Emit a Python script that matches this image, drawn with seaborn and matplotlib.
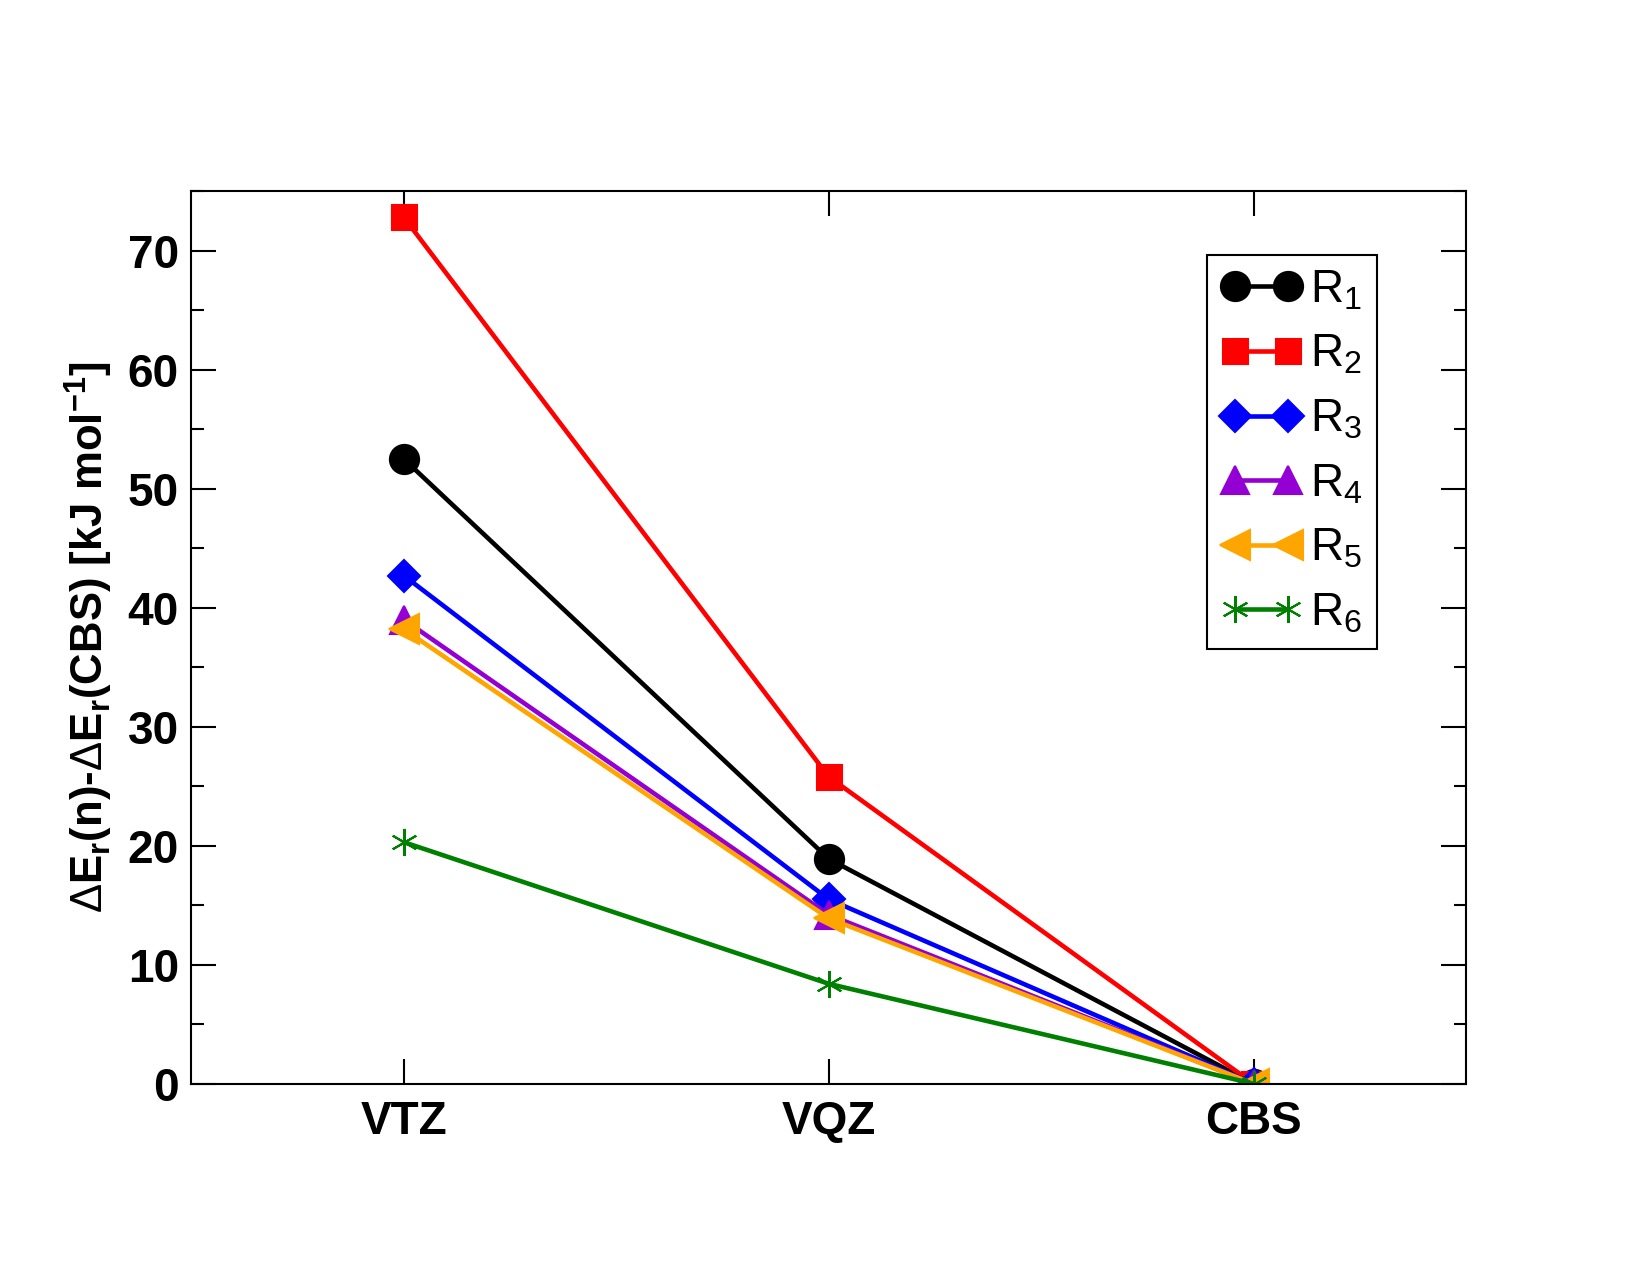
import pandas as pd
import matplotlib.pyplot as plt
import seaborn as sns
from matplotlib.ticker import MultipleLocator

# basis set levels and energy differences (kJ/mol) for each reaction
levels = ["VTZ", "VQZ", "CBS"]
R1 = [52.5, 18.9, 0.0]
R2 = [72.8, 25.8, 0.0]
R3 = [42.7, 15.5, 0.0]
R4 = [39.0, 14.2, 0.0]
R5 = [38.2, 13.9, 0.0]
R6 = [20.3, 8.4, 0.0]

series = {"1": R1, "2": R2, "3": R3, "4": R4, "5": R5, "6": R6}
colors = {"1": "black", "2": "red", "3": "blue", "4": "darkviolet", "5": "orange", "6": "green"}
markers = {"1": "o", "2": "s", "3": "D", "4": "^", "5": "<", "6": (6, 2, 0)}
msizes = {"1": 14, "2": 12, "3": 11, "4": 13, "5": 14, "6": 13}

rows = []
for k, vals in series.items():
    for lev, v in zip(levels, vals):
        rows.append({"level": lev, "value": v, "reaction": k})
df = pd.DataFrame(rows)

sns.set_style("ticks")
plt.rcParams["font.family"] = ["Liberation Sans", "DejaVu Sans"]
plt.rcParams["mathtext.fontset"] = "custom"
plt.rcParams["mathtext.rm"] = "Liberation Sans"
plt.rcParams["mathtext.bf"] = "Liberation Sans:bold"
plt.rcParams["mathtext.it"] = "Liberation Sans"
plt.rcParams["text.color"] = "black"
plt.rcParams["axes.labelcolor"] = "black"
plt.rcParams["xtick.color"] = "black"
plt.rcParams["ytick.color"] = "black"

fig = plt.figure(figsize=(11, 8.5), dpi=150)
ax = fig.add_axes([0.116, 0.150, 0.7725, 0.700])

for k in series:
    d = df[df["reaction"] == k]
    sns.lineplot(data=d, x="level", y="value", ax=ax, color=colors[k],
                 marker=markers[k], markersize=msizes[k], markeredgecolor=colors[k],
                 markeredgewidth=1.0, linewidth=2.2, label=r"R$_{%s}$" % k, sort=False)

ax.set_xlim(-0.5, 2.5)
ax.set_ylim(0, 75)
ax.yaxis.set_major_locator(MultipleLocator(10))
ax.yaxis.set_minor_locator(MultipleLocator(5))
ax.tick_params(axis="both", which="both", direction="in", top=True, right=True)
ax.tick_params(axis="both", which="major", length=12, width=1.0, labelsize=22, pad=6)
ax.tick_params(axis="x", which="major", pad=8)
ax.tick_params(axis="y", which="minor", length=6, width=1.0)
for lab in ax.get_xticklabels() + ax.get_yticklabels():
    lab.set_fontweight("bold")
for s in ax.spines.values():
    s.set_linewidth(1.0)
    s.set_color("black")

ax.set_xlabel("")
ax.set_ylabel(r"$\Delta$E$_\mathbf{r}$(n)-$\Delta$E$_\mathbf{r}$(CBS) [kJ mol$^\mathbf{-1}$]",
              fontsize=21, fontweight="bold", labelpad=6)

leg = ax.legend(loc="upper right", bbox_to_anchor=(0.930, 0.929), borderaxespad=0,
                fontsize=22, numpoints=2, handlelength=1.75, handletextpad=0.2,
                labelspacing=0.45, borderpad=0.3, fancybox=False, framealpha=1,
                edgecolor="black")
leg.get_frame().set_linewidth(1.0)

fig.savefig("out.png", dpi=150)
